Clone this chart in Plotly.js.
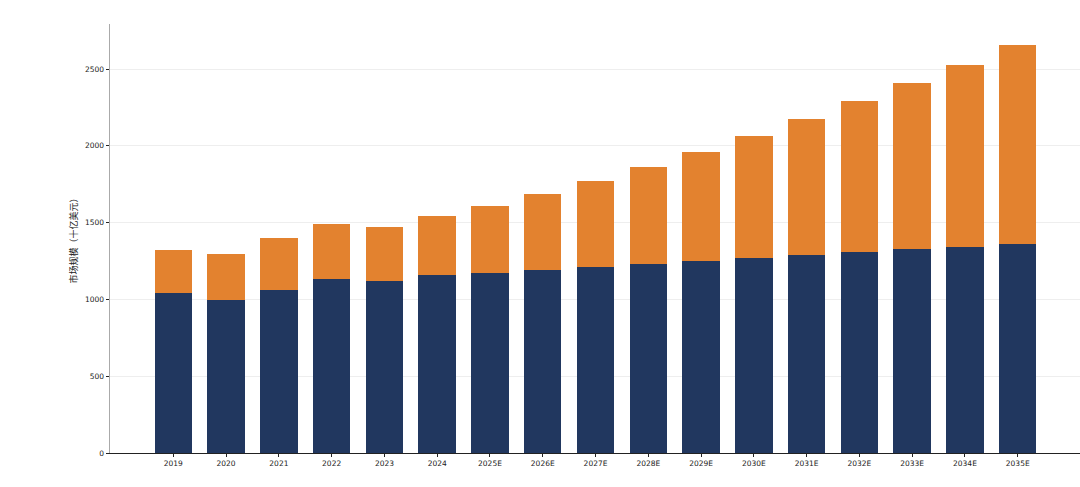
<!DOCTYPE html>
<html>
<head>
<meta charset="utf-8">
<script src="https://cdn.plot.ly/plotly-3.0.1.min.js"></script>
<style>
  html, body { margin: 0; padding: 0; background: #fff; }
  #chart { width: 1080px; height: 487px; }
</style>
</head>
<body>
<div id="chart"></div>
<script>
// years on the x axis
var years = ['2019', '2020', '2021', '2022', '2023', '2024', '2025E', '2026E', '2027E',
             '2028E', '2029E', '2030E', '2031E', '2032E', '2033E', '2034E', '2035E'];

// bottom segment (navy)
var base_values = [1040, 998, 1061, 1131, 1118, 1157, 1172, 1190, 1209,
                   1230, 1250, 1270, 1289, 1309, 1328, 1341, 1361];

// top segment (orange)
var top_values = [282, 298, 341, 360, 353, 386, 436, 496, 562,
                  632, 710, 794, 885, 983, 1081, 1185, 1295];

var y_ticks = [0, 500, 1000, 1500, 2000, 2500];

var data = [
    {
        x: years,
        y: base_values,
        type: 'bar',
        marker: {color: '#21375f'},
        hoverinfo: 'x+y'
    },
    {
        x: years,
        y: top_values,
        type: 'bar',
        marker: {color: '#e3822f'},
        hoverinfo: 'x+y'
    }
];

var layout = {
    width: 1080,
    height: 487,
    barmode: 'stack',
    bargap: 0.29,
    showlegend: false,
    paper_bgcolor: '#ffffff',
    plot_bgcolor: '#ffffff',
    margin: {l: 110, r: 0, t: 24, b: 34},
    font: {family: '"DejaVu Sans", "Noto Sans CJK SC", sans-serif', size: 8, color: '#222'},
    xaxis: {
        type: 'category',
        range: [-1.2, 17.18],
        showgrid: false,
        showline: true,
        linecolor: '#222',
        linewidth: 1,
        ticks: 'outside',
        ticklen: 3,
        tickcolor: '#222',
        tickfont: {size: 7.5, color: '#222'},
        zeroline: false
    },
    yaxis: {
        range: [0, 2793],
        tickvals: y_ticks,
        ticktext: y_ticks.map(String),
        showgrid: true,
        gridcolor: '#eeeeee',
        gridwidth: 1,
        showline: true,
        linecolor: '#aaaaaa',
        linewidth: 1.5,
        ticks: 'outside',
        ticklen: 3,
        tickcolor: '#222',
        tickfont: {size: 7.5, color: '#222'},
        zeroline: false,
        title: {
            text: '市场规模（十亿美元）',
            font: {family: '"Noto Sans CJK SC", sans-serif', size: 9, color: '#222'},
            standoff: 6
        }
    }
};

var config = {displayModeBar: false, staticPlot: true};

Plotly.newPlot('chart', data, layout, config);
</script>
</body>
</html>
